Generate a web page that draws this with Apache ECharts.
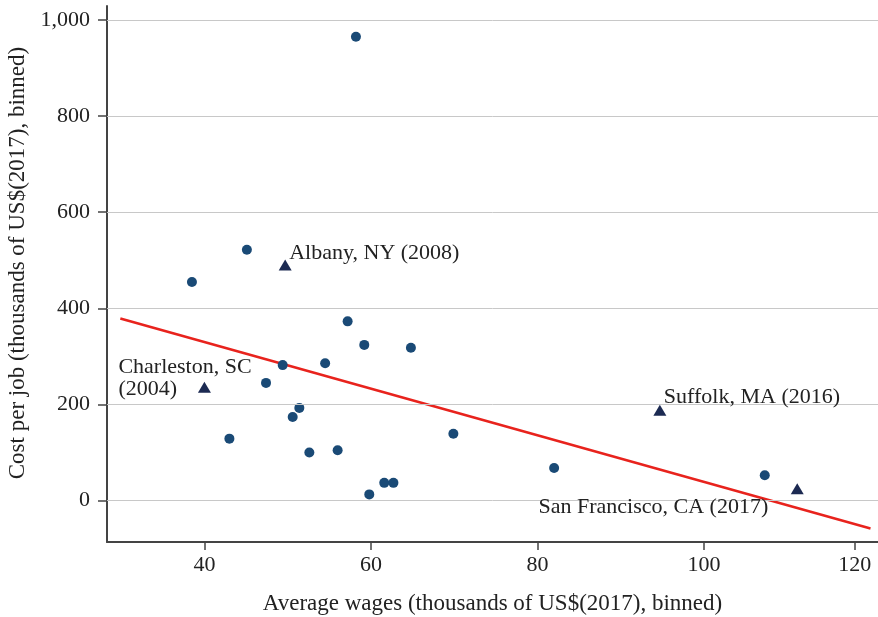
<!DOCTYPE html>
<html>
<head>
<meta charset="utf-8">
<script src="https://cdn.jsdelivr.net/npm/echarts@6/dist/echarts.min.js"></script>
<style>html,body{margin:0;padding:0;background:#fff}#c{width:878px;height:617px}</style>
</head>
<body>
<div id="c"></div>
<script>
// ---- data ----
const dotX = [58.2, 45.1, 38.5, 57.2, 59.2, 64.8, 54.5, 49.4, 47.4, 51.4, 50.6, 43.0, 52.6, 56.0, 69.9, 61.6, 62.7, 59.8, 82.0, 107.3];
const dotY = [965, 522, 455, 373, 324, 318, 286, 282, 245, 193, 174, 129, 100, 105, 139, 37, 37, 13, 68, 53];
const triNames = ['Albany, NY (2008)', 'Charleston, SC\n(2004)', 'Suffolk, MA (2016)', 'San Francisco, CA (2017)'];
const triX = [49.7, 40.0, 94.7, 111.2];
const triY = [490, 236, 188, 25];
const fitX = [29.9, 120];
const fitY = [379, -58];
const xTickValues = [40, 60, 80, 100, 118.1];
const xTickLabels = ['40', '60', '80', '100', '120'];
const yTickValues = [0, 200, 400, 600, 800, 1000];
const yTickLabels = ['0', '200', '400', '600', '800', '1,000'];
const xTitle = 'Average wages (thousands of US$(2017), binned)';
const yTitle = 'Cost per job (thousands of US$(2017), binned)';

// ---- chart ----
const FONT = "'Liberation Serif', 'DejaVu Serif', serif";
const TXT = '#222';
const labelPlacement = [
  { align: 'left', offset: [4, -12] },
  { align: 'left', offset: [-86, -9] },
  { align: 'left', offset: [4, -13] },
  { align: 'right', offset: [-29, 19] }
];
const chart = echarts.init(document.getElementById('c'), null, { renderer: 'canvas' });
chart.setOption({
  animation: false,
  backgroundColor: '#fff',
  grid: { left: 107, right: 0, top: 6, bottom: 75, containLabel: false, outerBoundsMode: 'none' },
  xAxis: {
    type: 'value', min: 28.3, max: 120.9,
    name: xTitle, nameLocation: 'middle', nameGap: 50,
    nameTextStyle: { fontFamily: FONT, fontSize: 23, color: TXT },
    axisLine: { show: true, onZero: false, lineStyle: { color: '#444', width: 2 } },
    axisTick: { show: true, length: 8, customValues: xTickValues, lineStyle: { color: '#444', width: 1.5 } },
    axisLabel: {
      customValues: xTickValues, margin: 12,
      fontFamily: FONT, fontSize: 22, color: TXT,
      formatter: v => { const i = xTickValues.indexOf(v); return i >= 0 ? xTickLabels[i] : ''; }
    },
    splitLine: { show: false }
  },
  yAxis: {
    type: 'value', min: -86, max: 1029,
    name: yTitle, nameLocation: 'middle', nameGap: 77, nameRotate: 90,
    nameTextStyle: { fontFamily: FONT, fontSize: 23, color: TXT, padding: [0, 0, 0, 22] },
    axisLine: { show: true, onZero: false, lineStyle: { color: '#444', width: 2 } },
    axisTick: { show: true, length: 9, customValues: yTickValues, lineStyle: { color: '#444', width: 1.5 } },
    axisLabel: {
      customValues: yTickValues, margin: 17,
      fontFamily: FONT, fontSize: 22, color: TXT,
      formatter: v => { const i = yTickValues.indexOf(v); return i >= 0 ? yTickLabels[i] : ''; }
    },
    splitLine: { show: false }
  },
  series: [
    {
      type: 'line', z: 1, silent: true,
      data: [],
      markLine: {
        silent: true, symbol: 'none', label: { show: false },
        lineStyle: { color: '#c8c8c8', width: 1, type: 'solid' },
        data: yTickValues.map(v => ({ yAxis: v }))
      }
    },
    {
      type: 'line', z: 3, showSymbol: false, symbol: 'none',
      data: fitX.map((x, i) => [x, fitY[i]]),
      lineStyle: { color: '#e8231d', width: 2.5 }
    },
    {
      type: 'scatter', z: 4, symbol: 'circle', symbolSize: 10,
      itemStyle: { color: '#1a4a76', opacity: 1 },
      data: dotX.map((x, i) => [x, dotY[i]])
    },
    {
      type: 'scatter', z: 5, symbol: 'triangle', symbolSize: [13, 11],
      itemStyle: { color: '#1c2a52', opacity: 1 },
      data: triX.map((x, i) => ({
        value: [x, triY[i]],
        label: {
          show: true, formatter: triNames[i], position: 'inside',
          align: labelPlacement[i].align, verticalAlign: 'middle',
          offset: labelPlacement[i].offset,
          fontFamily: FONT, fontSize: 22, color: TXT, lineHeight: 22,
          textBorderWidth: 0
        }
      }))
    }
  ]
});
</script>
</body>
</html>
